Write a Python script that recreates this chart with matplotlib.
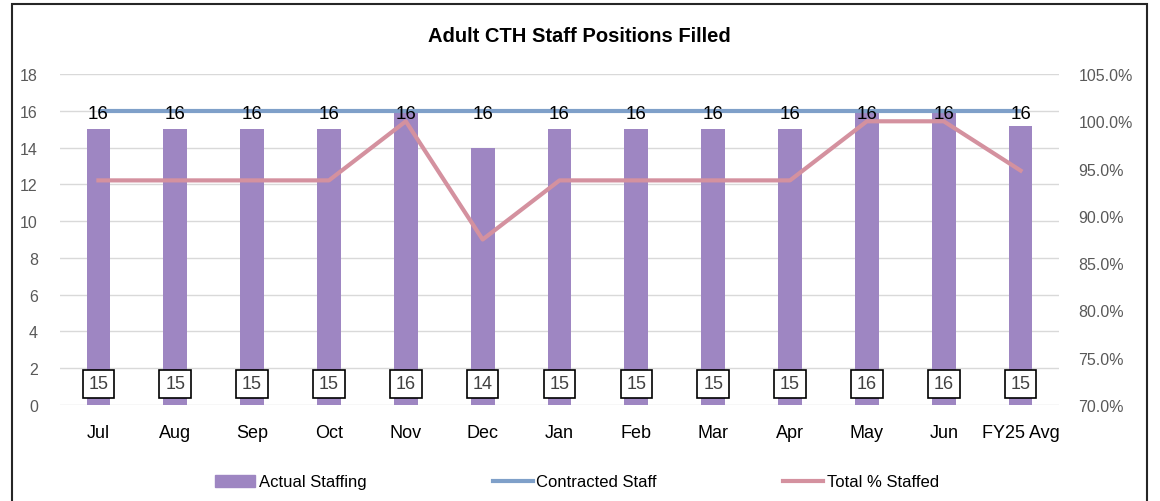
import matplotlib
matplotlib.use("Agg")
import matplotlib.pyplot as plt
from matplotlib.patches import Rectangle, Patch
from matplotlib.lines import Line2D
from matplotlib.ticker import FuncFormatter
import numpy as np

categories = ["Jul", "Aug", "Sep", "Oct", "Nov", "Dec", "Jan", "Feb", "Mar", "Apr", "May", "Jun", "FY25 Avg"]
actual_staffing = [15, 15, 15, 15, 16, 14, 15, 15, 15, 15, 16, 16, 15.17]
contracted_staff = [16, 16, 16, 16, 16, 16, 16, 16, 16, 16, 16, 16, 16]
pct_staffed = [93.75, 93.75, 93.75, 93.75, 100.0, 87.5, 93.75, 93.75, 93.75, 93.75, 100.0, 100.0, 94.79]

plt.rcParams['font.family'] = ['Liberation Sans', 'DejaVu Sans']

BAR = "#9E86C2"
BLUE = "#7FA0C9"
PINK = "#D4919F"
GRID = "#D9D9D9"
TICK = "#595959"

fig = plt.figure(figsize=(11.6, 5.02), dpi=100)
ax = fig.add_axes([60/1160, 1-406/502, (1059-60)/1160, (406-75)/502])
ax2 = ax.twinx()

x = np.arange(len(categories))
ax.bar(x, actual_staffing, width=0.31, color=BAR, zorder=2)
ax.plot(x, contracted_staff, color=BLUE, lw=3, zorder=3, solid_capstyle='butt')
ax2.plot(x, pct_staffed, color=PINK, lw=3, zorder=3)

ax.set_xlim(-0.5, len(categories) - 0.5)
ax.set_ylim(0, 18)
ax.set_yticks(range(0, 19, 2))
ax2.set_ylim(70, 105)
ax2.set_yticks(range(70, 106, 5))
ax2.yaxis.set_major_formatter(FuncFormatter(lambda v, p: f"{v:.1f}%"))

ax.grid(axis='y', color=GRID, lw=1, zorder=0)
ax.set_axisbelow(True)
for a in (ax, ax2):
    for s in a.spines.values():
        s.set_visible(False)
    a.tick_params(length=0)
ax.tick_params(axis='y', labelsize=11.5, labelcolor=TICK, pad=16)
ax2.tick_params(axis='y', labelsize=11.5, labelcolor=TICK, pad=14)
ax.set_xticks(x)
ax.set_xticklabels(categories, fontsize=13, color="black")
ax.tick_params(axis='x', pad=14)

# labels drawn on top axes (ax2) in primary data coordinates
for xi, v in zip(x, contracted_staff):
    ax2.text(xi, v - 0.15, f"{v:.0f}", ha='center', va='center', fontsize=13.5, color='black', zorder=5,
             transform=ax.transData)
for xi, v in zip(x, actual_staffing):
    ax2.text(xi, 1.15, f"{v:.0f}", ha='center', va='center', fontsize=13, color='#404040', zorder=5,
             transform=ax.transData,
             bbox=dict(boxstyle='square,pad=0.32', fc='white', ec='black', lw=1.2))

fig.text(579/1160, 1-37/502, "Adult CTH Staff Positions Filled", ha='center', va='center',
         fontsize=14.5, fontweight='bold')

handles = [Patch(color=BAR), Line2D([], [], color=BLUE, lw=3), Line2D([], [], color=PINK, lw=3)]
labels = ["Actual Staffing", "Contracted Staff", "Total % Staffed"]
fig.legend(handles, labels, loc='center', bbox_to_anchor=(577/1160, 1-483/502), ncol=3, frameon=False,
           fontsize=12, handlelength=2.4, handletextpad=0.2, columnspacing=7.6)

fig.add_artist(Rectangle((12/1160, -0.02), (1147-12)/1160, 1-5/502 + 0.02, transform=fig.transFigure,
                         fill=False, ec='#262626', lw=1.5))

fig.savefig("out.png", dpi=100)
